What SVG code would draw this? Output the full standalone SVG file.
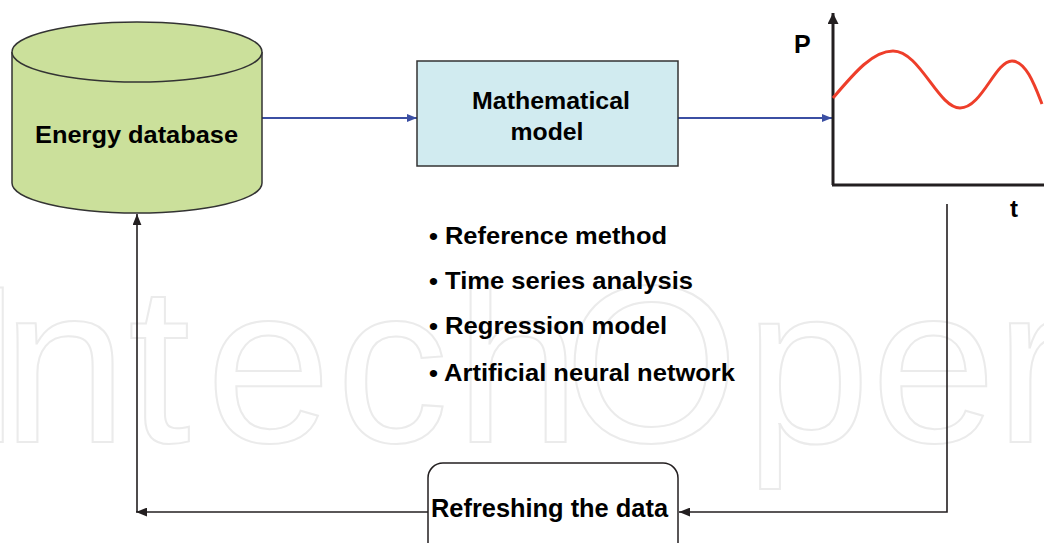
<svg xmlns="http://www.w3.org/2000/svg" width="1044" height="543" viewBox="0 0 1044 543">
  <style>
    .lbl { font-family: "Liberation Sans", Arial, Helvetica, sans-serif; font-weight: bold; fill: #000; }
    .wm { font-family: "Liberation Sans", Arial, sans-serif; font-size: 225px; fill: #fff; stroke: #ebebeb; stroke-width: 2; }
    .blue { stroke: #3b4fa3; stroke-width: 2; fill: none; }
    .blk { stroke: #231f20; stroke-width: 1.6; fill: none; }
    .axis { stroke: #231f20; stroke-width: 3; fill: none; }
  </style>
  <defs>
    <marker id="arrBlue" viewBox="0 0 10 8" refX="10" refY="4" markerWidth="10" markerHeight="8" markerUnits="userSpaceOnUse" orient="auto">
      <path d="M0,0 L10,4 L0,8 z" fill="#3b4fa3"/>
    </marker>
    <marker id="arrBlk" viewBox="0 0 10 8" refX="10" refY="4" markerWidth="11" markerHeight="9" markerUnits="userSpaceOnUse" orient="auto">
      <path d="M0,0 L10,4 L0,8 z" fill="#231f20"/>
    </marker>
    <marker id="arrAxis" viewBox="0 0 10 10" refX="10" refY="5" markerWidth="11" markerHeight="11" markerUnits="userSpaceOnUse" orient="auto">
      <path d="M0,0 L10,5 L0,10 z" fill="#231f20"/>
    </marker>
  </defs>

  <rect x="0" y="0" width="1044" height="543" fill="#ffffff"/>

  <!-- watermark -->
  <g id="watermark">
    <text class="wm" y="442"><tspan x="-39">I</tspan><tspan x="2">n</tspan><tspan x="128">t</tspan><tspan x="206">e</tspan><tspan x="336">c</tspan><tspan x="455">h</tspan><tspan x="564">O</tspan><tspan x="745">p</tspan><tspan x="871">e</tspan><tspan x="995">r</tspan></text>
  </g>

  <!-- connectors -->
  <g id="connectors">
    <path class="blue" d="M262,118 L417,118" marker-end="url(#arrBlue)"/>
    <path class="blue" d="M678,118 L832,118" marker-end="url(#arrBlue)"/>
    <path class="blk" d="M947,204 L947,512 L679,512" marker-end="url(#arrBlk)"/>
    <path class="blk" d="M428,512 L136,512" marker-end="url(#arrBlk)"/>
    <path class="blk" d="M137,512 L137,214" marker-end="url(#arrBlk)"/>
  </g>

  <!-- Energy database cylinder -->
  <g id="energy-database">
    <path d="M12,52 L12,183 A125,30 0 0 0 262,183 L262,52" fill="#cbe09b" stroke="#333" stroke-width="1.5"/>
    <ellipse cx="137" cy="52" rx="125" ry="30" fill="#cbe09b" stroke="#333" stroke-width="1.5"/>
    <text class="lbl" x="136.5" y="143" font-size="24" text-anchor="middle" textLength="203" lengthAdjust="spacingAndGlyphs">Energy database</text>
  </g>

  <!-- Mathematical model -->
  <g id="mathematical-model">
    <rect x="417" y="61" width="261" height="105" fill="#d1ebf0" stroke="#333" stroke-width="1.5"/>
    <text class="lbl" x="551" y="109" font-size="24" text-anchor="middle" textLength="158" lengthAdjust="spacingAndGlyphs">Mathematical</text>
    <text class="lbl" x="547" y="140" font-size="24" text-anchor="middle" textLength="73" lengthAdjust="spacingAndGlyphs">model</text>
  </g>

  <!-- Output chart -->
  <g id="output-chart">
    <path class="axis" d="M833,185 L833,13" marker-end="url(#arrAxis)"/>
    <path class="axis" d="M832,185 L1044,185"/>
    <path d="M833,98 C855,72 873,51 893,51 C920,51 938,108 960,108 C982,108 995,61 1012,61 C1026,61 1035,86 1042,104" fill="none" stroke="#ee3e2a" stroke-width="3"/>
    <text class="lbl" x="794" y="53" font-size="25">P</text>
    <text class="lbl" x="1010" y="217" font-size="24">t</text>
  </g>

  <!-- Methods list -->
  <g id="methods">
    <text class="lbl" x="429" y="244" font-size="24" textLength="238" lengthAdjust="spacingAndGlyphs">• Reference method</text>
    <text class="lbl" x="429" y="289" font-size="24" textLength="264" lengthAdjust="spacingAndGlyphs">• Time series analysis</text>
    <text class="lbl" x="429" y="334" font-size="24" textLength="238" lengthAdjust="spacingAndGlyphs">• Regression model</text>
    <text class="lbl" x="429" y="381" font-size="24" textLength="306" lengthAdjust="spacingAndGlyphs">• Artificial neural network</text>
  </g>

  <!-- Refreshing the data -->
  <g id="refreshing-data">
    <rect x="428" y="463" width="250" height="100" rx="15" ry="15" fill="#ffffff" stroke="#231f20" stroke-width="1.5"/>
    <text class="lbl" x="549.5" y="517" font-size="25" text-anchor="middle" textLength="237" lengthAdjust="spacingAndGlyphs">Refreshing the data</text>
  </g>
</svg>
